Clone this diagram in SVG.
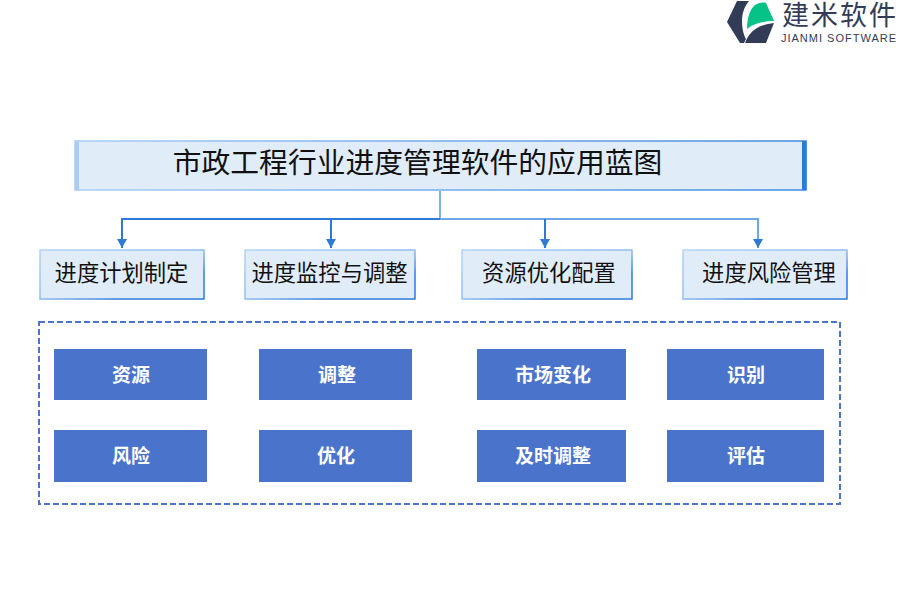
<svg xmlns="http://www.w3.org/2000/svg" width="900" height="600" viewBox="0 0 900 600">
<style>
text{font-family:"Noto Sans CJK SC","Noto Sans CJK JP",sans-serif;text-anchor:middle}
.hd{fill:#e1ecf9;stroke:url(#g);stroke-width:1.5}
.t{font-size:22.300px;fill:#111}
.b{fill:#4a74cc}
.w{font-size:19px;font-weight:700;fill:#fff}
.c{fill:none;stroke:#2e7bd6;stroke-width:2}
</style>
<defs>
<linearGradient id="g" x1="0" y1="0" x2="1" y2="1"><stop offset="0" stop-color="#b5d4f6"/><stop offset="0.5" stop-color="#8fbdf0"/><stop offset="0.75" stop-color="#2a7bdc"/></linearGradient>
<linearGradient id="h" gradientUnits="userSpaceOnUse" x1="75" y1="0" x2="806" y2="0"><stop offset="0" stop-color="#a9cdf5"/><stop offset="1" stop-color="#3f8be2"/></linearGradient>
<marker id="a" markerUnits="userSpaceOnUse" markerWidth="10" markerHeight="10" refX="9" refY="5" orient="auto"><path d="M0 0L9 5L0 10Z" fill="#2e7bd6"/></marker>
</defs>
<rect width="900" height="600" fill="#fff"/>
<g id="logo">
<path d="M737 1H749C744 7 742 14 742 21C742 29 744 36 746 39L744 43H740L727 22Z" fill="#333c57"/>
<path d="M747 29C747 18 750 9 755 5C758 3 763 2 766 3L774 21C762 21 753 24 747 29Z" fill="#05c287"/>
<path d="M745 43C748 35 752 31 757 28C762 25 768 24 774 23L766 43Z" fill="#333c57"/>
<text x="840" y="25" style="font-family:'Liberation Sans','Noto Sans CJK SC',sans-serif;font-size:27px;letter-spacing:2px;fill:#333c57">建米软件</text>
<text x="839" y="42" style="font-size:11px;letter-spacing:1px;fill:#333c57;font-family:'Liberation Sans',sans-serif">JIANMI SOFTWARE</text>
</g>
<g id="connectors">
<path class="c" style="stroke:#7db0ea" d="M440 191V219"/>
<path class="c" d="M440 219H122V248" marker-end="url(#a)"/>
<path class="c" d="M331 219V248" marker-end="url(#a)"/>
<path class="c" style="stroke:#6ea6e8" d="M440 219H758V248" marker-end="url(#a)"/>
<path class="c" d="M545 219V248" marker-end="url(#a)"/>
</g>
<g id="title">
<rect x="75" y="141" width="731" height="49" fill="#e1ecf9" stroke="url(#h)" stroke-width="1.500"/>
<rect x="75" y="141" width="4" height="49" fill="#a9cdf5"/>
<rect x="802" y="141" width="4.500" height="49" fill="#2a7bdc"/>
<text x="417.500" y="172.500" style="font-size:28.800px;fill:#111">市政工程行业进度管理软件的应用蓝图</text>
</g>
<g id="n1"><rect class="hd" x="40" y="250" width="164" height="49"/><text class="t" x="121.500" y="281">进度计划制定</text></g>
<g id="n2"><rect class="hd" x="245" y="250" width="170" height="49"/><text class="t" x="329.500" y="281">进度监控与调整</text></g>
<g id="n3"><rect class="hd" x="462" y="250" width="170" height="49"/><text class="t" x="549" y="281">资源优化配置</text></g>
<g id="n4"><rect class="hd" x="683" y="250" width="164" height="49"/><text class="t" x="769" y="281">进度风险管理</text></g>
<g id="frame"><rect x="39" y="322" width="801" height="182" fill="none" stroke="#4a74cc" stroke-width="2" stroke-dasharray="6 3"/></g>
<g id="b1"><rect class="b" x="54" y="349" width="153" height="51"/><text class="w" x="131" y="381.500">资源</text></g>
<g id="b2"><rect class="b" x="259" y="349" width="153" height="51"/><text class="w" x="337" y="381.500">调整</text></g>
<g id="b3"><rect class="b" x="477" y="349" width="149" height="51"/><text class="w" x="553" y="381.500">市场变化</text></g>
<g id="b4"><rect class="b" x="667" y="349" width="157" height="51"/><text class="w" x="746" y="381.500">识别</text></g>
<g id="b5"><rect class="b" x="54" y="430" width="153" height="52"/><text class="w" x="131" y="462.500">风险</text></g>
<g id="b6"><rect class="b" x="259" y="430" width="153" height="52"/><text class="w" x="336" y="462.500">优化</text></g>
<g id="b7"><rect class="b" x="477" y="430" width="149" height="52"/><text class="w" x="553" y="462.500">及时调整</text></g>
<g id="b8"><rect class="b" x="667" y="430" width="157" height="52"/><text class="w" x="746" y="462.500">评估</text></g>
</svg>
